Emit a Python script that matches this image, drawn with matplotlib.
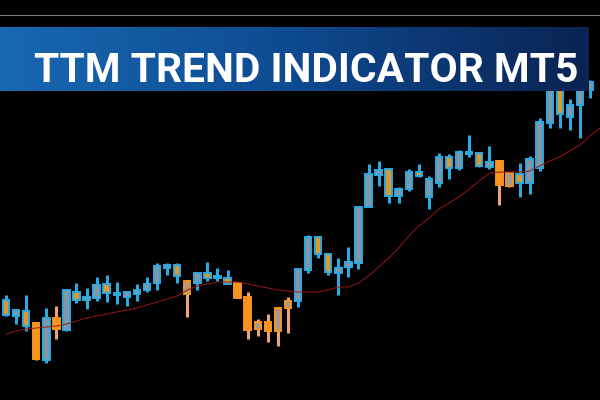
import numpy as np
import matplotlib
matplotlib.use("Agg")
import matplotlib.pyplot as plt
from matplotlib.colors import LinearSegmentedColormap
from matplotlib.lines import Line2D

# candles (arbitrary price units)
opens  = [100, 84, 89, 77, 40, 82, 70, 108, 100, 102, 116, 107, 103, 106, 110, 117, 132, 135, 106, 117,
          127, 122, 122, 117, 103, 71, 78, 69, 92, 99, 130, 163, 146, 127, 133, 137, 193, 225, 231, 204,
          211, 228, 203, 217, 243, 232, 248, 247, 233, 239, 214, 226, 217, 232, 277, 315, 283, 295, 310]
closes = [85, 90, 74, 41, 82, 71, 110, 100, 103, 115, 107, 105, 108, 110, 116, 134, 135, 124, 119, 127,
          122, 124, 116, 102, 70, 78, 69, 92, 99, 131, 163, 146, 128, 132, 138, 193, 226, 230, 204, 211,
          228, 224, 221, 243, 232, 248, 246, 234, 238, 215, 227, 217, 241, 278, 315, 286, 295, 315, 318]
highs  = [105, 91, 105, 77, 92, 94, 111, 117, 112, 123, 125, 118, 108, 116, 123, 137, 137, 137, 120, 127,
          138, 132, 130, 117, 108, 81, 86, 93, 103, 132, 165, 163, 147, 142, 153, 194, 236, 239, 231, 213,
          231, 236, 224, 247, 246, 250, 265, 247, 254, 240, 227, 237, 244, 282, 320, 320, 301, 320, 320]
lows   = [84, 76, 69, 40, 37, 61, 69, 97, 91, 99, 98, 96, 94, 99, 108, 110, 125, 117, 83, 110,
          119, 119, 116, 102, 61, 64, 58, 54, 67, 93, 127, 142, 125, 105, 123, 131, 193, 214, 197, 197,
          209, 223, 191, 213, 221, 230, 243, 233, 231, 195, 213, 203, 206, 229, 272, 272, 270, 262, 302]
# TTM trend state per candle: u = up (blue), d = down (orange)
trend  = list("uuududuuuuuuuuuuuuduuuudddddduuuuuuuuuuuuuuuuuuuudduuuuuuuu")
# trend line (one more point than candles, runs off the right edge)
ttm_line = [66, 69, 71, 72, 73, 74, 76, 79, 82, 84, 86, 88, 90, 92, 95, 98, 101, 104, 110, 114,
            116, 118, 118, 118, 116, 114, 112, 110, 109, 108, 108, 108, 110, 113, 113, 117, 124, 133, 142, 152,
            164, 174, 182, 191, 197, 203, 211, 219, 227, 228, 228, 228, 229, 234, 239, 243, 249, 255, 264, 272]
title = "TTM TREND INDICATOR MT5"

blue = "#29abe2"
orange = "#f7941d"
peach = "#eea46e"

fig = plt.figure(figsize=(6, 4), dpi=100, facecolor="black")
ax = fig.add_axes([0, 0, 1, 1])
ax.set_facecolor("black")
ax.axis("off")

x = np.arange(len(opens))
o = np.array(opens)
c = np.array(closes)
up = np.array([t == "u" for t in trend])

wick_col = [blue if u else peach for u in up]
edge_col = [blue if u else orange for u in up]
fill_col = []
for u, oo, cc in zip(up, o, c):
    if cc >= oo:
        fill_col.append("#8597a6" if u else "#a39a94")
    else:
        fill_col.append("#e0982a" if u else orange)

ax.vlines(x, lows, highs, colors=wick_col, linewidth=2.2, zorder=1)
ax.bar(x, c - o, bottom=o, width=0.64, color=fill_col, edgecolor=edge_col,
       linewidth=1.4, zorder=2)
ax.plot(np.arange(len(ttm_line)), ttm_line, color="#a01414", linewidth=0.7, zorder=3)

ax.set_xlim(-0.596, 58.99)
ax.set_ylim(0, 400)

# thin grey line near the top
fig.add_artist(Line2D([0, 1], [1 - 15 / 400] * 2, color="#7a7a7a", linewidth=0.8))

# gradient banner with title
bax = fig.add_axes([0, 1 - 91 / 400, 589 / 600, 64 / 400])
cmap = LinearSegmentedColormap.from_list("banner", ["#1868b2", "#0e4a90", "#0a2352"])
bax.imshow(np.linspace(0, 1, 256).reshape(1, -1), aspect="auto", cmap=cmap,
           extent=[0, 1, 0, 1])
bax.set_xlim(0, 1)
bax.set_ylim(0, 1)
bax.axis("off")
t = fig.text(34 / 600, 1 - 82 / 400, title, color="white", fontsize=33,
             fontweight="bold", family="Roboto", ha="left", va="baseline")

# shrink the title until it fits the banner width
r = fig.canvas.get_renderer()
w = t.get_window_extent(r).width
if w > 542:
    t.set_fontsize(33 * 542 / w)

fig.savefig("out.png", dpi=100, facecolor="black")
